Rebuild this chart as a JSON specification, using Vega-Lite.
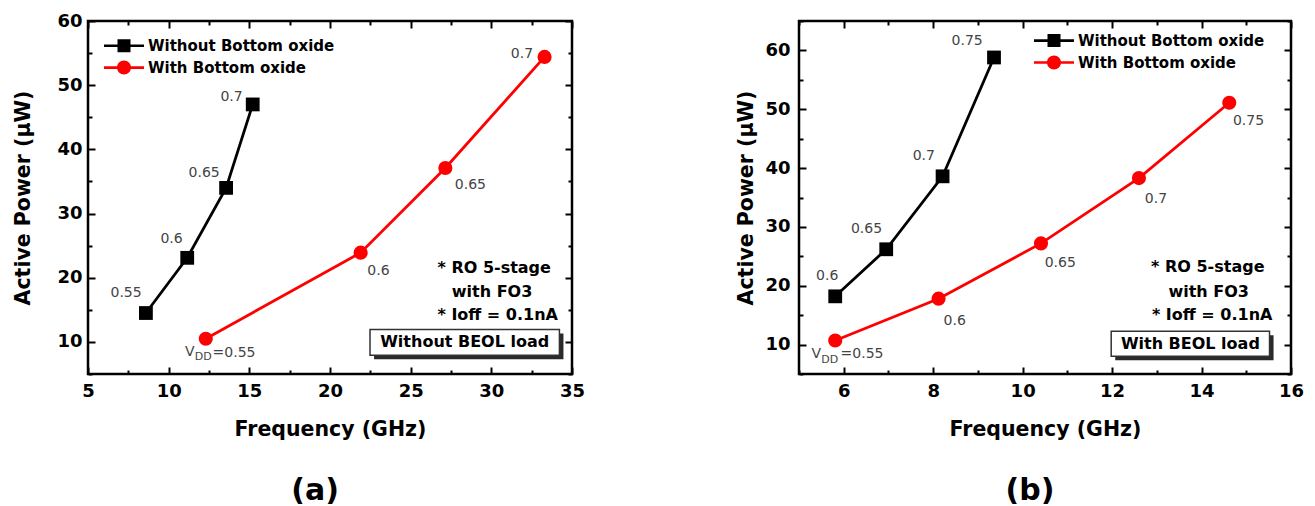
{
  "$schema": "https://vega.github.io/schema/vega-lite/v6.json",
  "background": "white",
  "padding": {"left": 12, "top": 10, "right": 0, "bottom": 0},
  "spacing": 149,
  "resolve": {"scale": {"color": "independent", "shape": "independent"}, "legend": {"color": "independent", "shape": "independent"}},
  "datasets": {
    "a_series": [
      {"series": "Without Bottom oxide", "f": 8.59, "p": 14.5},
      {"series": "Without Bottom oxide", "f": 11.15, "p": 23.1},
      {"series": "Without Bottom oxide", "f": 13.56, "p": 34.0},
      {"series": "Without Bottom oxide", "f": 15.21, "p": 47.0},
      {"series": "With Bottom oxide", "f": 12.3, "p": 10.5},
      {"series": "With Bottom oxide", "f": 21.9, "p": 23.9},
      {"series": "With Bottom oxide", "f": 27.15, "p": 37.1},
      {"series": "With Bottom oxide", "f": 33.3, "p": 54.4}
    ],
    "a_labels": [
      {"x": 7.36, "y": 17.6, "t": "0.55"},
      {"x": 10.18, "y": 26.0, "t": "0.6"},
      {"x": 12.2, "y": 36.3, "t": "0.65"},
      {"x": 13.9, "y": 48.2, "t": "0.7"},
      {"x": 31.9, "y": 54.9, "t": "0.7"},
      {"x": 28.7, "y": 34.4, "t": "0.65"},
      {"x": 23.0, "y": 21.1, "t": "0.6"}
    ],
    "a_vdd": [
      {"x": 11.01, "y": 8.47, "t": "V", "s": "main"},
      {"x": 11.62, "y": 7.6, "t": "DD", "s": "sub"},
      {"x": 12.72, "y": 8.31, "t": "=0.55", "s": "main"}
    ],
    "a_notes": [
      {"x": 26.66, "y": 21.47, "t": "* RO 5-stage"},
      {"x": 27.55, "y": 17.81, "t": "with FO3"},
      {"x": 26.66, "y": 14.17, "t": "* Ioff = 0.1nA"}
    ],
    "a_box": [{"x1": 22.48, "x2": 34.22, "y1": 11.94, "y2": 7.92, "sx1": 22.73, "sx2": 34.47, "sy1": 11.32, "sy2": 7.3, "cx": 28.35, "cy": 9.93, "t": "Without BEOL load"}],
    "b_series": [
      {"series": "Without Bottom oxide", "f": 5.81, "p": 18.2},
      {"series": "Without Bottom oxide", "f": 6.95, "p": 26.2},
      {"series": "Without Bottom oxide", "f": 8.21, "p": 38.6},
      {"series": "Without Bottom oxide", "f": 9.36, "p": 58.8},
      {"series": "With Bottom oxide", "f": 5.81, "p": 10.7},
      {"series": "With Bottom oxide", "f": 8.12, "p": 17.8},
      {"series": "With Bottom oxide", "f": 10.41, "p": 27.2},
      {"series": "With Bottom oxide", "f": 12.6, "p": 38.3},
      {"series": "With Bottom oxide", "f": 14.62, "p": 51.1}
    ],
    "b_labels": [
      {"x": 5.63, "y": 21.7, "t": "0.6"},
      {"x": 6.51, "y": 29.7, "t": "0.65"},
      {"x": 7.79, "y": 42.0, "t": "0.7"},
      {"x": 8.76, "y": 61.6, "t": "0.75"},
      {"x": 15.05, "y": 48.05, "t": "0.75"},
      {"x": 12.98, "y": 34.8, "t": "0.7"},
      {"x": 10.84, "y": 23.8, "t": "0.65"},
      {"x": 8.48, "y": 14.06, "t": "0.6"}
    ],
    "b_vdd": [
      {"x": 5.28, "y": 8.48, "t": "V", "s": "main"},
      {"x": 5.5, "y": 7.4, "t": "DD", "s": "sub"},
      {"x": 5.93, "y": 8.48, "t": "=0.55", "s": "main"}
    ],
    "b_notes": [
      {"x": 12.87, "y": 23.25, "t": "* RO 5-stage"},
      {"x": 13.26, "y": 19.0, "t": "with FO3"},
      {"x": 12.89, "y": 14.96, "t": "* Ioff = 0.1nA"}
    ],
    "b_box": [{"x1": 11.98, "x2": 15.52, "y1": 12.26, "y2": 8.03, "sx1": 12.07, "sx2": 15.61, "sy1": 11.58, "sy2": 7.35, "cx": 13.75, "cy": 10.15, "t": "With BEOL load"}]
  },
  "hconcat": [
    {
      "width": 484,
      "height": 353,
      "title": {"text": "(a)", "orient": "bottom", "anchor": "middle", "fontSize": 30, "fontWeight": "bold", "font": "DejaVu Sans", "color": "black", "offset": 36, "dx": -15},
      "resolve": {"axis": {"x": "independent", "y": "independent"}},
      "layer": [
        {
          "data": {"name": "a_series"},
          "transform": [{"filter": "datum.series === 'Without Bottom oxide'"}],
          "mark": {"type": "line", "strokeWidth": 2.8, "color": "black"},
          "encoding": {
            "x": {"field": "f", "type": "quantitative", "scale": {"domain": [5, 35], "nice": false, "zero": false},
              "axis": {"orient": "bottom", "values": [5, 10, 15, 20, 25, 30, 35], "tickSize": 7, "offset": -7,
                "labelPadding": 8, "title": "Frequency (GHz)", "titlePadding": 19}},
            "y": {"field": "p", "type": "quantitative", "scale": {"domain": [5, 60], "nice": false, "zero": false},
              "axis": {"orient": "left", "values": [10, 20, 30, 40, 50, 60], "tickSize": 7, "offset": -7,
                "labelPadding": 6, "title": "Active Power (μW)", "titlePadding": 23}}
          }
        },
        {
          "data": {"name": "a_series"},
          "transform": [{"filter": "datum.series === 'With Bottom oxide'"}],
          "mark": {"type": "line", "strokeWidth": 2.8, "color": "red"},
          "encoding": {
            "x": {"field": "f", "type": "quantitative", "axis": null},
            "y": {"field": "p", "type": "quantitative", "axis": null}
          }
        },
        {
          "data": {"name": "a_series"},
          "transform": [{"filter": "datum.series === 'Without Bottom oxide'"}],
          "mark": {"type": "point", "filled": true, "opacity": 1, "shape": "square", "size": 190, "color": "black"},
          "encoding": {
            "x": {"field": "f", "type": "quantitative",
              "axis": {"orient": "top", "values": [5, 10, 15, 20, 25, 30, 35], "labels": false, "title": null, "tickSize": 7, "offset": -7}},
            "y": {"field": "p", "type": "quantitative",
              "axis": {"orient": "right", "values": [10, 20, 30, 40, 50, 60], "labels": false, "title": null, "tickSize": 7, "offset": -7}}
          }
        },
        {
          "data": {"name": "a_series"},
          "transform": [{"filter": "datum.series === 'With Bottom oxide'"}],
          "mark": {"type": "point", "filled": true, "opacity": 1, "shape": "circle", "size": 200, "color": "red"},
          "encoding": {
            "x": {"field": "f", "type": "quantitative", "axis": null},
            "y": {"field": "p", "type": "quantitative", "axis": null}
          }
        },
        {
          "data": {"name": "a_series"},
          "mark": {"type": "point", "filled": true, "opacity": 0},
          "encoding": {
            "x": {"field": "f", "type": "quantitative", "axis": null},
            "y": {"field": "p", "type": "quantitative", "axis": null},
            "color": {"field": "series", "type": "nominal",
              "scale": {"domain": ["Without Bottom oxide", "With Bottom oxide"], "range": ["black", "red"]},
              "legend": {"orient": "none", "legendX": 25, "legendY": 13.8, "title": null, "symbolSize": 400, "labelOffset": 13, "rowPadding": 0.8, "padding": 0, "labelLimit": 400, "symbolOpacity": 1}},
            "shape": {"field": "series", "type": "nominal",
              "scale": {"domain": ["Without Bottom oxide", "With Bottom oxide"], "range": ["M-2,-0.13H2V0.13H-2ZM-0.65,-0.65H0.65V0.65H-0.65Z", "M-2,-0.13H2V0.13H-2ZM-0.7,0A0.7,0.7,0,1,1,0.7,0A0.7,0.7,0,1,1,-0.7,0Z"]},
              "legend": {"orient": "none", "legendX": 25, "legendY": 13.8, "title": null, "symbolSize": 400, "labelOffset": 13, "rowPadding": 0.8, "padding": 0, "labelLimit": 400, "symbolOpacity": 1}}
          }
        },
        {
          "data": {"name": "a_labels"},
          "mark": {"type": "text", "fontSize": 14, "color": "#444444", "align": "center", "baseline": "middle"},
          "encoding": {
            "x": {"field": "x", "type": "quantitative",
              "axis": {"orient": "bottom", "values": [7.5, 12.5, 17.5, 22.5, 27.5, 32.5], "labels": false, "title": null, "tickSize": 4, "offset": -4}},
            "y": {"field": "y", "type": "quantitative",
              "axis": {"orient": "left", "values": [5, 15, 25, 35, 45, 55], "labels": false, "title": null, "tickSize": 4, "offset": -4}},
            "text": {"field": "t"}
          }
        },
        {
          "data": {"name": "a_vdd"},
          "mark": {"type": "text", "color": "#444444", "align": "left", "baseline": "middle"},
          "encoding": {
            "x": {"field": "x", "type": "quantitative", "axis": null},
            "y": {"field": "y", "type": "quantitative", "axis": null},
            "text": {"field": "t"},
            "size": {"field": "s", "type": "nominal", "scale": {"domain": ["main", "sub"], "range": [14, 11]}, "legend": null}
          }
        },
        {
          "data": {"name": "a_notes"},
          "mark": {"type": "text", "fontSize": 16, "fontWeight": "bold", "color": "black", "align": "left", "baseline": "middle"},
          "encoding": {
            "x": {"field": "x", "type": "quantitative",
              "axis": {"orient": "top", "values": [7.5, 12.5, 17.5, 22.5, 27.5, 32.5], "labels": false, "title": null, "tickSize": 4, "offset": -4}},
            "y": {"field": "y", "type": "quantitative",
              "axis": {"orient": "right", "values": [5, 15, 25, 35, 45, 55], "labels": false, "title": null, "tickSize": 4, "offset": -4}},
            "text": {"field": "t"}
          }
        },
        {
          "data": {"name": "a_box"},
          "mark": {"type": "rect", "color": "#2a2a2a"},
          "encoding": {
            "x": {"field": "sx1", "type": "quantitative", "axis": null}, "x2": {"field": "sx2"},
            "y": {"field": "sy1", "type": "quantitative", "axis": null}, "y2": {"field": "sy2"}
          }
        },
        {
          "data": {"name": "a_box"},
          "mark": {"type": "rect", "fill": "white", "stroke": "#333333", "strokeWidth": 1.5},
          "encoding": {
            "x": {"field": "x1", "type": "quantitative", "axis": null}, "x2": {"field": "x2"},
            "y": {"field": "y1", "type": "quantitative", "axis": null}, "y2": {"field": "y2"}
          }
        },
        {
          "data": {"name": "a_box"},
          "mark": {"type": "text", "fontSize": 16, "fontWeight": "bold", "color": "black", "align": "center", "baseline": "middle"},
          "encoding": {
            "x": {"field": "cx", "type": "quantitative", "axis": null},
            "y": {"field": "cy", "type": "quantitative", "axis": null},
            "text": {"field": "t"}
          }
        }
      ]
    },
    {
      "width": 492,
      "height": 353,
      "title": {"text": "(b)", "orient": "bottom", "anchor": "middle", "fontSize": 30, "fontWeight": "bold", "font": "DejaVu Sans", "color": "black", "offset": 36, "dx": -15},
      "resolve": {"axis": {"x": "independent", "y": "independent"}},
      "layer": [
        {
          "data": {"name": "b_series"},
          "transform": [{"filter": "datum.series === 'Without Bottom oxide'"}],
          "mark": {"type": "line", "strokeWidth": 2.8, "color": "black"},
          "encoding": {
            "x": {"field": "f", "type": "quantitative", "scale": {"domain": [5, 16], "nice": false, "zero": false},
              "axis": {"orient": "bottom", "values": [6, 8, 10, 12, 14, 16], "tickSize": 7, "offset": -7,
                "labelPadding": 8, "title": "Frequency (GHz)", "titlePadding": 19}},
            "y": {"field": "p", "type": "quantitative", "scale": {"domain": [5, 65], "nice": false, "zero": false},
              "axis": {"orient": "left", "values": [10, 20, 30, 40, 50, 60], "tickSize": 7, "offset": -7,
                "labelPadding": 9, "title": "Active Power (μW)", "titlePadding": 8}}
          }
        },
        {
          "data": {"name": "b_series"},
          "transform": [{"filter": "datum.series === 'With Bottom oxide'"}],
          "mark": {"type": "line", "strokeWidth": 2.8, "color": "red"},
          "encoding": {
            "x": {"field": "f", "type": "quantitative", "axis": null},
            "y": {"field": "p", "type": "quantitative", "axis": null}
          }
        },
        {
          "data": {"name": "b_series"},
          "transform": [{"filter": "datum.series === 'Without Bottom oxide'"}],
          "mark": {"type": "point", "filled": true, "opacity": 1, "shape": "square", "size": 190, "color": "black"},
          "encoding": {
            "x": {"field": "f", "type": "quantitative",
              "axis": {"orient": "top", "values": [6, 8, 10, 12, 14, 16], "labels": false, "title": null, "tickSize": 7, "offset": -7}},
            "y": {"field": "p", "type": "quantitative",
              "axis": {"orient": "right", "values": [10, 20, 30, 40, 50, 60], "labels": false, "title": null, "tickSize": 7, "offset": -7}}
          }
        },
        {
          "data": {"name": "b_series"},
          "transform": [{"filter": "datum.series === 'With Bottom oxide'"}],
          "mark": {"type": "point", "filled": true, "opacity": 1, "shape": "circle", "size": 200, "color": "red"},
          "encoding": {
            "x": {"field": "f", "type": "quantitative", "axis": null},
            "y": {"field": "p", "type": "quantitative", "axis": null}
          }
        },
        {
          "data": {"name": "b_series"},
          "mark": {"type": "point", "filled": true, "opacity": 0},
          "encoding": {
            "x": {"field": "f", "type": "quantitative", "axis": null},
            "y": {"field": "p", "type": "quantitative", "axis": null},
            "color": {"field": "series", "type": "nominal",
              "scale": {"domain": ["Without Bottom oxide", "With Bottom oxide"], "range": ["black", "red"]},
              "legend": {"orient": "none", "legendX": 244, "legendY": 8.6, "title": null, "symbolSize": 400, "labelOffset": 13, "rowPadding": 0.9, "padding": 0, "labelLimit": 400, "symbolOpacity": 1}},
            "shape": {"field": "series", "type": "nominal",
              "scale": {"domain": ["Without Bottom oxide", "With Bottom oxide"], "range": ["M-2,-0.13H2V0.13H-2ZM-0.65,-0.65H0.65V0.65H-0.65Z", "M-2,-0.13H2V0.13H-2ZM-0.7,0A0.7,0.7,0,1,1,0.7,0A0.7,0.7,0,1,1,-0.7,0Z"]},
              "legend": {"orient": "none", "legendX": 244, "legendY": 8.6, "title": null, "symbolSize": 400, "labelOffset": 13, "rowPadding": 0.9, "padding": 0, "labelLimit": 400, "symbolOpacity": 1}}
          }
        },
        {
          "data": {"name": "b_labels"},
          "mark": {"type": "text", "fontSize": 14, "color": "#444444", "align": "center", "baseline": "middle"},
          "encoding": {
            "x": {"field": "x", "type": "quantitative",
              "axis": {"orient": "bottom", "values": [5, 7, 9, 11, 13, 15], "labels": false, "title": null, "tickSize": 4, "offset": -4}},
            "y": {"field": "y", "type": "quantitative",
              "axis": {"orient": "left", "values": [5, 15, 25, 35, 45, 55, 65], "labels": false, "title": null, "tickSize": 4, "offset": -4}},
            "text": {"field": "t"}
          }
        },
        {
          "data": {"name": "b_vdd"},
          "mark": {"type": "text", "color": "#444444", "align": "left", "baseline": "middle"},
          "encoding": {
            "x": {"field": "x", "type": "quantitative", "axis": null},
            "y": {"field": "y", "type": "quantitative", "axis": null},
            "text": {"field": "t"},
            "size": {"field": "s", "type": "nominal", "scale": {"domain": ["main", "sub"], "range": [14, 11]}, "legend": null}
          }
        },
        {
          "data": {"name": "b_notes"},
          "mark": {"type": "text", "fontSize": 16, "fontWeight": "bold", "color": "black", "align": "left", "baseline": "middle"},
          "encoding": {
            "x": {"field": "x", "type": "quantitative",
              "axis": {"orient": "top", "values": [5, 7, 9, 11, 13, 15], "labels": false, "title": null, "tickSize": 4, "offset": -4}},
            "y": {"field": "y", "type": "quantitative",
              "axis": {"orient": "right", "values": [5, 15, 25, 35, 45, 55, 65], "labels": false, "title": null, "tickSize": 4, "offset": -4}},
            "text": {"field": "t"}
          }
        },
        {
          "data": {"name": "b_box"},
          "mark": {"type": "rect", "color": "#2a2a2a"},
          "encoding": {
            "x": {"field": "sx1", "type": "quantitative", "axis": null}, "x2": {"field": "sx2"},
            "y": {"field": "sy1", "type": "quantitative", "axis": null}, "y2": {"field": "sy2"}
          }
        },
        {
          "data": {"name": "b_box"},
          "mark": {"type": "rect", "fill": "white", "stroke": "#333333", "strokeWidth": 1.5},
          "encoding": {
            "x": {"field": "x1", "type": "quantitative", "axis": null}, "x2": {"field": "x2"},
            "y": {"field": "y1", "type": "quantitative", "axis": null}, "y2": {"field": "y2"}
          }
        },
        {
          "data": {"name": "b_box"},
          "mark": {"type": "text", "fontSize": 16, "fontWeight": "bold", "color": "black", "align": "center", "baseline": "middle"},
          "encoding": {
            "x": {"field": "cx", "type": "quantitative", "axis": null},
            "y": {"field": "cy", "type": "quantitative", "axis": null},
            "text": {"field": "t"}
          }
        }
      ]
    }
  ],
  "config": {
    "font": "DejaVu Sans",
    "view": {"stroke": "black", "strokeWidth": 2.5},
    "axis": {
      "domain": false, "grid": false,
      "labelFont": "DejaVu Sans", "labelFontWeight": "bold", "labelFontSize": 18, "labelColor": "black",
      "labelFlush": false, "labelOverlap": false,
      "tickColor": "black", "tickWidth": 2,
      "titleFont": "DejaVu Sans", "titleFontWeight": "bold", "titleFontSize": 20.5, "titleColor": "black"
    },
    "legend": {"labelFont": "DejaVu Sans", "labelFontWeight": "bold", "labelFontSize": 15, "labelColor": "black"},
    "text": {"font": "DejaVu Sans"}
  }
}
